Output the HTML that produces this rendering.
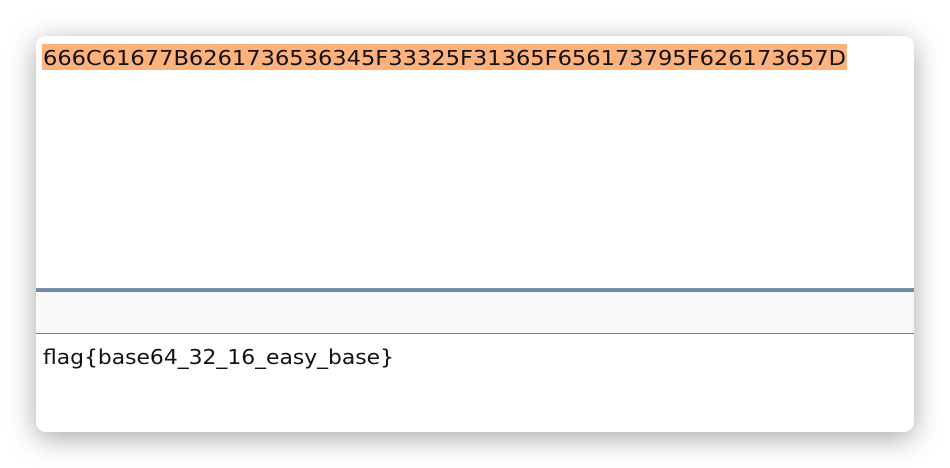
<!DOCTYPE html>
<html><head><meta charset="utf-8"><style>
html,body{margin:0;padding:0;background:#fff;width:950px;height:468px;overflow:hidden}
.win{position:absolute;left:36px;top:36px;width:878px;height:396px;background:#fff;border-radius:10px;box-shadow:0 6px 28px rgba(0,0,0,0.35);overflow:hidden}
.hl{position:absolute;left:6px;top:8px;width:805px;height:26px;background:#fdb27e}
.band{position:absolute;left:0;top:252px;width:878px;height:45px;background:#f8f8f9;border-top:1px solid #8a8f96}
.blue{position:absolute;left:0;top:253px;width:878px;height:3px;background:#5f8fbd}
.line2{position:absolute;left:0;top:297px;width:878px;height:1px;background:#777a80}
svg{position:absolute;left:0;top:0}
</style></head><body>
<div class="win">
<div class="hl"></div>
<div class="band"></div>
<div class="blue"></div>
<div class="line2"></div>
<svg width="878" height="396">
<text x="7" y="29" font-family="DejaVu Sans, sans-serif" font-size="20" fill="#111" textLength="803" lengthAdjust="spacingAndGlyphs">666C61677B6261736536345F33325F31365F656173795F626173657D</text>
<text x="7" y="328" font-family="DejaVu Sans, sans-serif" font-size="20" fill="#111" textLength="351" lengthAdjust="spacingAndGlyphs">flag{base64_32_16_easy_base}</text>
</svg>
</div>
</body></html>
